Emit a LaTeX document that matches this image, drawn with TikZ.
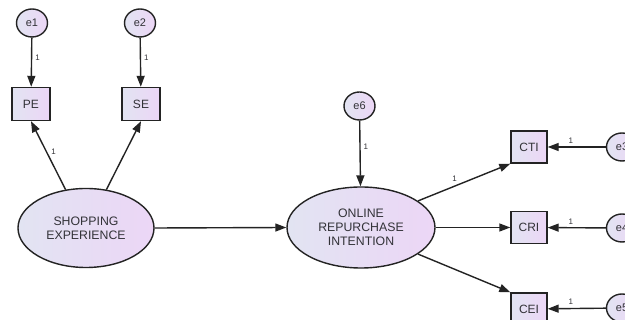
\documentclass[tikz,border=0pt]{standalone}
\usepackage{fontspec}
\setmainfont{Liberation Sans}
\usetikzlibrary{shapes.geometric,arrows.meta}
\definecolor{shadeL}{RGB}{226,228,242}
\definecolor{shadeR}{RGB}{236,214,246}
\definecolor{ink}{RGB}{35,35,35}
\definecolor{txt}{RGB}{50,50,55}
\tikzset{
  latent/.style={ellipse, draw=ink, line width=1.4pt, left color=shadeL, right color=shadeR,
    minimum width=#1, inner sep=0pt, align=center, font=\fontsize{12.3pt}{14pt}\selectfont, text=txt},
  observed/.style={rectangle, draw=ink, line width=1.4pt, left color=shadeL, right color=shadeR,
    minimum width=38pt, minimum height=33pt, inner sep=0pt, font=\fontsize{12pt}{14pt}\selectfont, text=txt},
  errorvar/.style={ellipse, draw=ink, line width=1.4pt, left color=shadeL, right color=shadeR,
    minimum width=31pt, minimum height=28pt, inner sep=0pt, font=\fontsize{11pt}{13pt}\selectfont, text=txt},
  link/.style={draw=ink, line width=1.4pt, -{Triangle[length=11pt,width=8pt]}},
  weight/.style={font=\fontsize{8pt}{9pt}\selectfont, text=txt, inner sep=1pt}
}
\begin{document}
\begin{tikzpicture}[x=1pt,y=-1pt]
\useasboundingbox (0,0) rectangle (625,320);
\clip (0,0) rectangle (625,320);
\fill[white] (0,0) rectangle (625,320);

% latent constructs
\node[latent=136pt, minimum height=79pt] (shop) at (86,228) {SHOPPING\\EXPERIENCE};
\node[latent=148pt, minimum height=81pt] (orint) at (361,227.5) {ONLINE\\REPURCHASE\\INTENTION};

% indicators
\node[observed] (pe) at (31,104) {PE};
\node[observed] (se) at (141,104) {SE};
\node[observed, minimum width=36pt, minimum height=32pt] (cti) at (529,147) {CTI};
\node[observed, minimum width=36pt, minimum height=32pt] (cri) at (529,227.5) {CRI};
\node[observed, minimum width=36pt, minimum height=32pt] (cei) at (529,309) {CEI};

% error terms
\node[errorvar] (e1) at (32,23) {e1};
\node[errorvar] (e2) at (140,23) {e2};
\node[errorvar] (e6) at (359.5,106) {e6};
\node[errorvar] (e3) at (622,147) {e3};
\node[errorvar] (e4) at (622,228) {e4};
\node[errorvar] (e5) at (622,308) {e5};

% error paths
\draw[link] (e1) -- node[weight, right=2pt, pos=0.4] {1} (pe);
\draw[link] (e2) -- node[weight, right=2pt, pos=0.4] {1} (se);
\draw[link] (e6) -- node[weight, right=2pt, pos=0.4] {1} (orint);
\draw[link] (e3) -- node[weight, above=2pt, pos=0.6] {1} (cti);
\draw[link] (e4) -- node[weight, above=2pt, pos=0.6] {1} (cri);
\draw[link] (e5) -- node[weight, above=2pt, pos=0.6] {1} (cei);

% loadings
\draw[link] (shop.118) -- node[weight, right=3pt, pos=0.55] {1} (pe.south);
\draw[link] (shop.62) -- (se.south);
\draw[link] (orint.25) -- node[weight, above left=1pt, pos=0.45] {1} (cti.south west);
\draw[link] (orint.east) -- (cri.west);
\draw[link] (orint.-25) -- (cei.north west);

% structural path
\draw[link] (shop.east) -- (orint.west);
\end{tikzpicture}
\end{document}
